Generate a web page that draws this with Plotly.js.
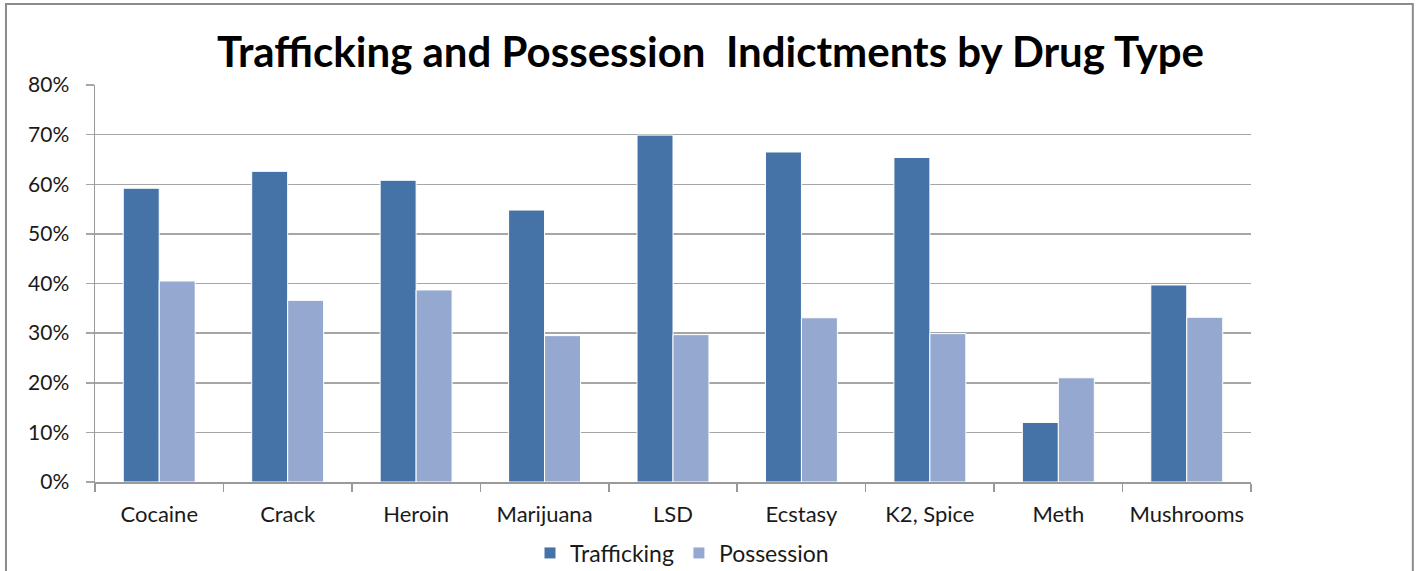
<!DOCTYPE html>
<html>
<head>
<meta charset="utf-8">
<script src="https://cdn.plot.ly/plotly-3.0.1.min.js"></script>
<style>html,body{margin:0;padding:0;background:#fff;}#chart{width:1421px;height:571px;}</style>
</head>
<body>
<div id="chart"></div>
<script>
const categories = ["Cocaine", "Crack", "Heroin", "Marijuana", "LSD", "Ecstasy", "K2, Spice", "Meth", "Mushrooms"];
const trafficking = [0.592, 0.626, 0.608, 0.548, 0.699, 0.665, 0.654, 0.120, 0.397];
const possession = [0.405, 0.366, 0.387, 0.295, 0.297, 0.331, 0.299, 0.210, 0.332];
const yTickVals = [0, 0.1, 0.2, 0.3, 0.4, 0.5, 0.6, 0.7, 0.8];

const font = "Lato, 'Open Sans', sans-serif";
const traces = [
  {type: "bar", name: "Trafficking", x: categories, y: trafficking,
   marker: {color: "#4673A7", line: {color: "#ffffff", width: 1}}, hoverinfo: "skip"},
  {type: "bar", name: "Possession", x: categories, y: possession,
   marker: {color: "#95A9D0", line: {color: "#ffffff", width: 1}}, hoverinfo: "skip"}
];

const layout = {
  width: 1421, height: 571,
  margin: {l: 95, r: 170, t: 85, b: 89, autoexpand: false},
  paper_bgcolor: "#ffffff", plot_bgcolor: "#ffffff",
  font: {family: font, color: "#1a1a1a", size: 22},
  title: {text: "<b>Trafficking and Possession&nbsp;&nbsp;Indictments by Drug Type</b>",
          font: {family: font, size: 42, color: "#000000"},
          x: 0.5, xanchor: "center", y: 1 - 52/571, yanchor: "middle"},
  barmode: "group", bargap: 0.44, bargroupgap: 0,
  xaxis: {type: "category", showgrid: false, showline: true, linecolor: "#9a9a9a", linewidth: 1.5, automargin: false,
          ticks: "outside", tickson: "boundaries", ticklen: 8, tickcolor: "#9a9a9a", tickwidth: 1.5,
          tickfont: {family: font, size: 22, color: "#1a1a1a"}, ticklabelstandoff: 12, fixedrange: true},
  yaxis: {range: [0, 0.8], tickvals: yTickVals, tickformat: ".0%", showgrid: true, gridcolor: "#a6a6a6", gridwidth: 1.5,
          showline: true, linecolor: "#9a9a9a", linewidth: 1.5, ticks: "outside", ticklen: 8, tickcolor: "#a6a6a6", tickwidth: 1.5,
          zeroline: false, automargin: false, tickfont: {family: font, size: 21, color: "#1a1a1a"}, ticklabelstandoff: 12, fixedrange: true},
  legend: {orientation: "h", xref: "container", yref: "container", x: 682/1421, xanchor: "center", y: 1 - 553/571, yanchor: "middle",
           font: {family: font, size: 23, color: "#1a1a1a"}, itemwidth: 30, traceorder: "normal"},
  shapes: [{type: "rect", xref: "paper", yref: "paper", x0: -0.077, x1: 1.140, y0: -0.4, y1: 1.204,
            line: {color: "#8c8c8c", width: 2}, fillcolor: "rgba(0,0,0,0)", layer: "below"}]
};

Plotly.newPlot("chart", traces, layout, {displayModeBar: false, staticPlot: true});
</script>
</body>
</html>
